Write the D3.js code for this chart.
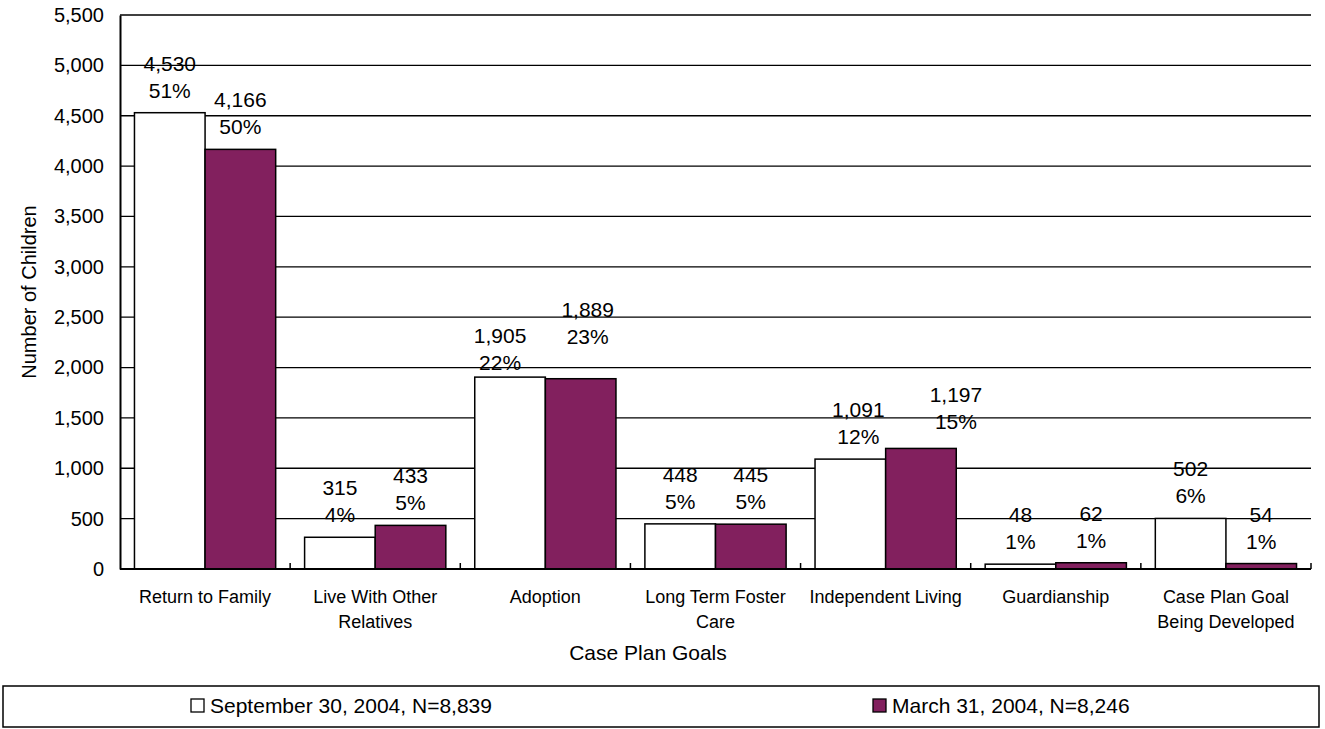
<!DOCTYPE html>
<html>
<head>
<meta charset="utf-8">
<script src="https://cdn.jsdelivr.net/npm/d3@7"></script>
<style>
  html, body { margin: 0; padding: 0; background: #fff; }
  svg { display: block; font-family: Arial, "Liberation Sans", sans-serif; }
</style>
</head>
<body>
<svg id="chart" width="1325" height="729"></svg>
<script>
// ---- data ----
const categories = ["Return to Family", "Live With Other Relatives", "Adoption",
  "Long Term Foster Care", "Independent Living", "Guardianship", "Case Plan Goal Being Developed"];
const seriesNames = ["September 30, 2004, N=8,839", "March 31, 2004, N=8,246"];
const septValues = [4530, 315, 1905, 448, 1091, 48, 502];
const marchValues = [4166, 433, 1889, 445, 1197, 62, 54];
const septPct = ["51%", "4%", "22%", "5%", "12%", "1%", "6%"];
const marchPct = ["50%", "5%", "23%", "5%", "15%", "1%", "1%"];
const yTicks = [0, 500, 1000, 1500, 2000, 2500, 3000, 3500, 4000, 4500, 5000, 5500];

// ---- layout / style ----
const colors = ["#ffffff", "#82205e"];
const plot = { left: 120, right: 1311, top: 15, bottom: 569 };
// manual nudges for a few data labels (as placed in the original)
const nudgeSept = [[0,0],[0,0],[-10,8],[0,0],[8,0],[0,0],[0,0]];
const nudgeMarch = [[0,0],[0,0],[7,-20],[0,0],[35,-4],[0,0],[0,0]];

const svg = d3.select("#chart");
const y = d3.scaleLinear().domain([0, 5500]).range([plot.bottom, plot.top]);
const x = d3.scaleBand().domain(categories).range([plot.left, plot.right])
  .paddingInner(0.17).paddingOuter(0.085);
const xs = d3.scaleBand().domain([0, 1]).range([0, x.bandwidth()]);

// gridlines
svg.append("g").selectAll("line").data(yTicks.filter(d => d > 0)).join("line")
  .attr("x1", plot.left).attr("x2", plot.right)
  .attr("y1", d => y(d)).attr("y2", d => y(d))
  .attr("stroke", "#000").attr("stroke-width", 1.3);

// y axis
const yAxis = svg.append("g").attr("transform", `translate(${plot.left},0)`)
  .call(d3.axisLeft(y).tickValues(yTicks).tickFormat(d3.format(",")).tickSize(0).tickPadding(16));
yAxis.select(".domain").attr("stroke", "#000").attr("stroke-width", 2);
yAxis.selectAll("text").attr("font-size", 20).attr("fill", "#000")
  .attr("font-family", 'Arial, "Liberation Sans", sans-serif');

// bars
const series = [septValues, marchValues];
series.forEach((vals, si) => {
  svg.append("g").selectAll("rect").data(vals).join("rect")
    .attr("x", (d, i) => x(categories[i]) + xs(si))
    .attr("width", xs.bandwidth())
    .attr("y", d => y(d))
    .attr("height", d => y(0) - y(d))
    .attr("fill", colors[si]).attr("stroke", "#000").attr("stroke-width", 1.5);
});

// x axis
const xAxis = svg.append("g").attr("transform", `translate(0,${plot.bottom})`);
xAxis.append("line").attr("x1", plot.left).attr("x2", plot.right)
  .attr("stroke", "#000").attr("stroke-width", 2);
const bounds = categories.map((c, i) => i + 1);
xAxis.selectAll("line.tk").data(bounds).join("line").attr("class", "tk")
  .attr("x1", i => plot.left + x.step() * i).attr("x2", i => plot.left + x.step() * i)
  .attr("y1", 0).attr("y2", -6).attr("stroke", "#000").attr("stroke-width", 1.5);

// category labels with wrapping
function wrapLines(text, maxW, size) {
  const ctx = document.createElement("canvas").getContext("2d");
  ctx.font = `${size}px Arial, "Liberation Sans", sans-serif`;
  const words = text.split(" "); const lines = []; let cur = "";
  words.forEach(w => {
    const t = cur ? cur + " " + w : w;
    if (ctx.measureText(t).width > maxW && cur) { lines.push(cur); cur = w; } else cur = t;
  });
  lines.push(cur); return lines;
}
categories.forEach(c => {
  const lines = wrapLines(c, 162, 18);
  const t = svg.append("text").attr("text-anchor", "middle").attr("font-size", 18)
    .attr("x", x(c) + x.bandwidth() / 2).attr("y", 603);
  lines.forEach((l, k) => t.append("tspan").attr("x", x(c) + x.bandwidth() / 2)
    .attr("dy", k === 0 ? 0 : 25).text(l));
});

// data labels
const fmt = d3.format(",");
[[septValues, septPct, nudgeSept], [marchValues, marchPct, nudgeMarch]].forEach(([vals, pcts, nud], si) => {
  vals.forEach((v, i) => {
    const cx = x(categories[i]) + xs(si) + xs.bandwidth() / 2 + nud[i][0];
    const top = y(v) + nud[i][1];
    svg.append("text").attr("text-anchor", "middle").attr("font-size", 21)
      .attr("x", cx).attr("y", top - 42).text(fmt(v));
    svg.append("text").attr("text-anchor", "middle").attr("font-size", 21)
      .attr("x", cx).attr("y", top - 15).text(pcts[i]);
  });
});

// axis titles
svg.append("text").attr("text-anchor", "middle").attr("font-size", 20)
  .attr("transform", `translate(36,${(plot.top + plot.bottom) / 2}) rotate(-90)`)
  .text("Number of Children");
svg.append("text").attr("text-anchor", "middle").attr("font-size", 21)
  .attr("x", 648).attr("y", 660).text("Case Plan Goals");

// legend
svg.append("rect").attr("x", 3).attr("y", 686).attr("width", 1316).attr("height", 41)
  .attr("fill", "#fff").attr("stroke", "#000").attr("stroke-width", 1.5);
const legX = [191, 873];
seriesNames.forEach((n, si) => {
  svg.append("rect").attr("x", legX[si]).attr("y", 699).attr("width", 13).attr("height", 13)
    .attr("fill", colors[si]).attr("stroke", "#000").attr("stroke-width", 1.3);
  svg.append("text").attr("font-size", 21).attr("x", legX[si] + 19).attr("y", 713).text(n);
});
</script>
</body>
</html>
